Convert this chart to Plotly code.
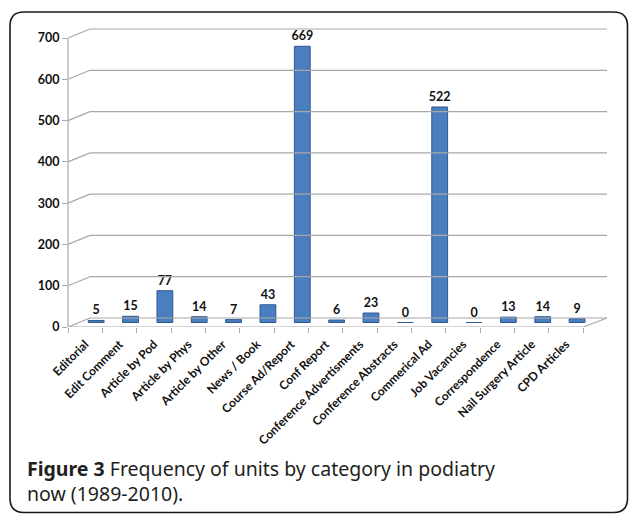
import plotly.graph_objects as go

categories = ["Editorial", "Edit Comment", "Article by Pod", "Article by Phys", "Article by Other",
              "News / Book", "Course Ad/Report", "Conf Report", "Conference Advertisments",
              "Conference Abstracts", "Commerical Ad", "Job Vacancies", "Correspondence",
              "Nail Surgery Article", "CPD Articles"]
values = [5, 15, 77, 14, 7, 43, 669, 6, 23, 0, 522, 0, 13, 14, 9]
y_ticks = [0, 100, 200, 300, 400, 500, 600, 700]

W, H = 629, 514
L, R, T, B = 68, 22, 28, 187
pw, ph = W - L - R, H - T - B
PX_PER_UNIT = 289 / 700.0
CAT_PX = 34.35
DEPTH_X = 22.0   # front-to-back horizontal shift (px)
DEPTH_Y = 9.0    # front-to-back vertical shift (px)
depth_units = DEPTH_Y / PX_PER_UNIT

def px_x(px):
    return (px - L) / pw

def px_y(py):
    return (H - B - py) / ph

GRID = "#a8a8a8"
TXT = "#111111"

fig = go.Figure()
fig.add_trace(go.Bar(
    x=categories, y=values, xaxis="x", yaxis="y",
    width=0.46,
    marker=dict(color="#4a7ebf", line=dict(color="#2f5890", width=1)),
    text=[str(v) for v in values], textposition="outside", cliponaxis=False,
    constraintext="none",
    textfont=dict(family="Lato", size=12.5, color=TXT, weight="bold"),
    hoverinfo="x+y",
))
# front (label) axes
fig.add_trace(go.Scatter(
    x=categories, y=values, xaxis="x2", yaxis="y2", mode="markers",
    marker=dict(opacity=0), hoverinfo="skip", showlegend=False,
))

half_x_units = (DEPTH_X / 2) / CAT_PX
x_front_range = [-0.5, -0.5 + pw / CAT_PX]
x_mid_range = [x_front_range[0] - half_x_units, x_front_range[1] - half_x_units]
y_front_range = [0, ph / PX_PER_UNIT]
y_mid_range = [-depth_units / 2, -depth_units / 2 + ph / PX_PER_UNIT]

shapes = []
x_back0 = px_x(L + DEPTH_X)
for v in y_ticks:
    shapes.append(dict(type="line", xref="paper", yref="y2", x0=x_back0, x1=1,
                       y0=v + depth_units, y1=v + depth_units, line=dict(color=GRID, width=1.2)))
    shapes.append(dict(type="line", xref="paper", yref="y2", x0=0, x1=x_back0,
                       y0=v, y1=v + depth_units, line=dict(color=GRID, width=1.2)))
# front vertical axis
shapes.append(dict(type="line", xref="paper", yref="y2", x0=0, x1=0, y0=0, y1=y_ticks[-1],
                   line=dict(color=GRID, width=1.2)))
# floor front edge and right edge
x_front_end = px_x(L + CAT_PX * len(categories))
shapes.append(dict(type="line", xref="paper", yref="y2", x0=0, x1=x_front_end, y0=0, y1=0,
                   line=dict(color=GRID, width=1.2)))
shapes.append(dict(type="line", xref="paper", yref="y2", x0=x_front_end, x1=1, y0=0, y1=depth_units,
                   line=dict(color=GRID, width=1.2)))

# outer rounded border
bx0, by0, bx1, by1, rr = 10, 12, 627.5, 512.5, 14
path = (f"M {px_x(bx0)},{px_y(by0 + rr)} "
        f"Q {px_x(bx0)},{px_y(by0)} {px_x(bx0 + rr)},{px_y(by0)} "
        f"L {px_x(bx1 - rr)},{px_y(by0)} "
        f"Q {px_x(bx1)},{px_y(by0)} {px_x(bx1)},{px_y(by0 + rr)} "
        f"L {px_x(bx1)},{px_y(by1 - rr)} "
        f"Q {px_x(bx1)},{px_y(by1)} {px_x(bx1 - rr)},{px_y(by1)} "
        f"L {px_x(bx0 + rr)},{px_y(by1)} "
        f"Q {px_x(bx0)},{px_y(by1)} {px_x(bx0)},{px_y(by1 - rr)} Z")
shapes.append(dict(type="path", xref="paper", yref="paper", path=path,
                   line=dict(color="#1a1a1a", width=1.6), layer="above"))

annotations = [
    dict(xref="paper", yref="paper", x=px_x(25), y=px_y(468), xanchor="left", yanchor="middle",
         text="<b>Figure 3</b> Frequency of units by category in podiatry", showarrow=False,
         font=dict(family="Noto Sans", size=19.5, color="#231f20")),
    dict(xref="paper", yref="paper", x=px_x(25), y=px_y(494), xanchor="left", yanchor="middle",
         text="now (1989-2010).", showarrow=False,
         font=dict(family="Noto Sans", size=19.5, color="#231f20")),
]

fig.update_layout(
    width=W, height=H,
    margin=dict(l=L, r=R, t=T, b=B, pad=0),
    paper_bgcolor="white", plot_bgcolor="rgba(0,0,0,0)",
    showlegend=False, bargap=0.5,
    xaxis=dict(type="category", categoryorder="array", categoryarray=categories,
               range=x_mid_range, visible=False, fixedrange=True),
    yaxis=dict(range=y_mid_range, visible=False, fixedrange=True),
    xaxis2=dict(type="category", categoryorder="array", categoryarray=categories,
                overlaying="x", anchor="y2", side="bottom", range=x_front_range,
                tickangle=-45, ticks="outside", tickson="boundaries", ticklen=5,
                ticklabelstandoff=7,
                tickcolor=GRID, showline=False, showgrid=False, zeroline=False,
                tickfont=dict(family="Lato", size=12, color=TXT, weight="bold"), fixedrange=True),
    yaxis2=dict(overlaying="y", anchor="x2", side="left", range=y_front_range,
                tickvals=y_ticks, ticks="outside", ticklen=5, tickcolor=GRID,
                showline=False, showgrid=False, zeroline=False,
                tickfont=dict(family="Lato", size=12.5, color=TXT, weight="bold"), fixedrange=True),
    shapes=shapes, annotations=annotations,
)

fig.write_html("out.html", config={"displayModeBar": False},
               post_script="document.body.style.margin='0';document.body.style.overflow='hidden';")
